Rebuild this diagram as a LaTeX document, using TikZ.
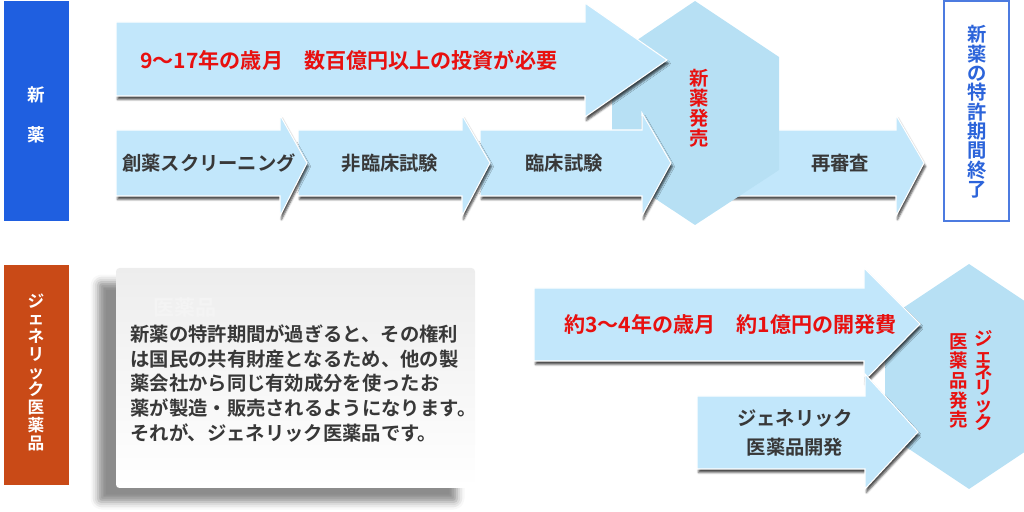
\documentclass[tikz,border=0pt]{standalone}
\usepackage{fontspec}
\setmainfont{Noto Sans CJK JP}[UprightFont=* Bold]
\usetikzlibrary{shadows.blur}
\definecolor{newblue}{HTML}{1F5FE0}
\definecolor{genorange}{HTML}{C94A17}
\definecolor{flowblue}{HTML}{C2E7FB}
\definecolor{hexblue}{HTML}{B7E0F4}
\definecolor{alertred}{HTML}{E8100F}
\definecolor{darktxt}{HTML}{383838}
\definecolor{patentblue}{HTML}{2C64DA}
\tikzset{
  flow/.style={fill=flowblue, draw=white, line width=0.6pt,
    blur shadow={shadow xshift=0.3mm, shadow yshift=-0.7mm,
      shadow blur radius=0.4mm, shadow opacity=70}},
  hexa/.style={fill=hexblue},
  redtxt/.style={text=alertred, font=\fontsize{12}{14}\selectfont, inner sep=0pt},
  stagetxt/.style={text=darktxt, font=\fontsize{11}{13}\selectfont, inner sep=0pt},
  vtxt/.style={align=center, inner sep=0pt},
}
\begin{document}
\begin{tikzpicture}[x=0.2mm,y=-0.2mm]
  \useasboundingbox (0,0) rectangle (1024,512);
  \clip (0,0) rectangle (1024,512);
  % side labels
  \fill[newblue] (4,1) rectangle (69,221);
  \node[vtxt, text=white, font=\fontsize{10}{22.7}\selectfont] (newlbl) at (36,115) {新\\薬};
  \fill[genorange] (4,265) rectangle (69,485);
  \node[vtxt, text=white, font=\fontsize{9.5}{10.1}\selectfont] (genlbl) at (36,372)
    {ジ\\ェ\\ネ\\リ\\ッ\\ク\\医\\薬\\品};
  % new drug row
  \path[flow] (700,130) -- (896,130) -- (896,115) -- (924,163) -- (896,216) -- (896,196) -- (700,196) -- cycle;
  \fill[hexa] (695,1) -- (779,57) -- (779,170) -- (695,225) -- (612,170) -- (612,57) -- cycle;
  \path[flow] (480,130) -- (642,130) -- (642,113) -- (671,163) -- (642,216) -- (642,196) -- (480,196) -- cycle;
  \path[flow] (298,130) -- (462,130) -- (462,115) -- (490,163) -- (462,216) -- (462,196) -- (298,196) -- cycle;
  \path[flow] (116,130) -- (280,130) -- (280,115) -- (307,163) -- (280,216) -- (280,196) -- (116,196) -- cycle;
  \path[flow] (116,22) -- (585,22) -- (585,3) -- (667,60) -- (585,117) -- (585,96) -- (116,96) -- cycle;
  \node[redtxt, anchor=west] (cost) at (140,60) {9〜17年の歳月　数百億円以上の投資が必要};
  \node[stagetxt] (screen) at (209,163) {創薬スクリーニング};
  \node[stagetxt] (preclin) at (390,163) {非臨床試験};
  \node[stagetxt] (clin) at (564,163) {臨床試験};
  \node[stagetxt] (review) at (840,163) {再審査};
  \node[vtxt, text=alertred, font=\fontsize{11}{11.3}\selectfont] (launch) at (699,108) {新\\薬\\発\\売};
  \draw[patentblue!85, line width=0.8pt, fill=white] (944,1) rectangle (1009,221);
  \node[vtxt, text=patentblue, font=\fontsize{11}{11}\selectfont] (patent) at (977,112)
    {新\\薬\\の\\特\\許\\期\\間\\終\\了};
  % generic row
  \path[rounded corners=2pt, top color=gray!14, bottom color=white,
    blur shadow={shadow xshift=-3.6mm, shadow yshift=-2.8mm,
      shadow blur radius=1.5mm, shadow opacity=45}]
    (116,268) rectangle (475,488);
  \node[text=gray!9, font=\fontsize{12}{14}\selectfont, inner sep=0pt] (ghost) at (185,307) {医薬品};
  \node[stagetxt, anchor=north west, align=left, font=\fontsize{11}{14.2}\selectfont] (gentext) at (130,324)
    {新薬の特許期間が過ぎると、その権利\\
     は国民の共有財産となるため、他の製\\
     薬会社から同じ有効成分を使ったお\\
     薬が製造・販売されるようになります。\\
     それが、ジェネリック医薬品です。};
  \fill[hexa] (969,264) -- (1053,320) -- (1053,433) -- (969,489) -- (885,433) -- (885,320) -- cycle;
  \path[flow] (534,288) -- (864,288) -- (864,268) -- (920,324) -- (864,381) -- (864,361) -- (534,361) -- cycle;
  \path[flow] (697,396) -- (865,396) -- (865,374) -- (918,432) -- (865,489) -- (865,469) -- (697,469) -- cycle;
  \node[redtxt, anchor=west] (gencost) at (564,324) {約3〜4年の歳月　約1億円の開発費};
  \node[stagetxt, align=center, font=\fontsize{11}{16.5}\selectfont] (gendev) at (795,433) {ジェネリック\\医薬品開発};
  \node[vtxt, text=alertred, font=\fontsize{10.5}{9.3}\selectfont] (genname) at (984,381)
    {ジ\\ェ\\ネ\\リ\\ッ\\ク};
  \node[vtxt, text=alertred, font=\fontsize{10.5}{11.2}\selectfont] (genlaunch) at (959,381)
    {医\\薬\\品\\発\\売};
\end{tikzpicture}
\end{document}
